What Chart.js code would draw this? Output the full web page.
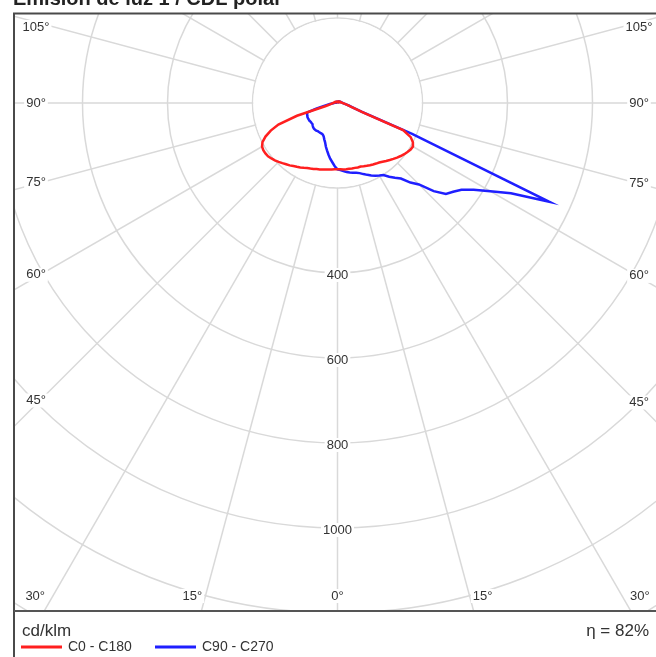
<!DOCTYPE html>
<html>
<head>
<meta charset="utf-8">
<script src="https://cdn.jsdelivr.net/npm/chart.js@4.4.1/dist/chart.umd.min.js"></script>
<style>
html,body{margin:0;padding:0;background:#fff;}
canvas{display:block;}
</style>
</head>
<body>
<canvas id="c" width="656" height="657"></canvas>
<script>
// ---------- DATA ----------
const chartTitle = 'Emisión de luz 1 / CDL polar';
const unitLabel = 'cd/klm';
const efficiencyLabel = 'η = 82%';
const seriesNames = ['C0 - C180', 'C90 - C270'];
const gammaStep = 2.5;                 // degrees between samples, gamma 0..180
const ringLabels = [400, 600, 800, 1000];
const angleLabels = [0, 15, 30, 45, 60, 75, 90, 105];

// intensities (cd/klm) for gamma = 0, 2.5, ... 180
const c0 = [156,156,157,157,157,158,158,159,159,161,
            163,165,167,169,171,174,178,182,186,190,
            194,198,201,204,205,200,190,167,62,42,
            32,26,22,19,16,14,12,11,10,9,
            8,8,7,7,6,6,6,5,5,5,
            5,4,4,4,4,4,3,3,3,3,
            3,3,3,2,2,2,2,2,2,2,
            2,2,2];
const c180 = [156,156,157,158,159,160,162,163,165,167,
              169,172,175,178,181,185,188,192,196,200,
              203,206,207,207,205,199,187,170,148,100,
              30,22,18,15,13,11,10,9,8,8,
              7,7,6,6,6,5,5,5,5,4,
              4,4,4,4,3,3,3,3,3,3,
              3,3,2,2,2,2,2,2,2,2,
              2,2,2];
const c90 = [156,158,161,164,166,168,170,173,178,183,
             188,193,197,201,212,222,232,254,271,307,
             333,343,356,380,415,460,550,190,60,42,
             33,27,22,19,16,14,13,12,11,10,
             9,8,8,7,7,6,6,6,5,5,
             5,5,4,4,4,4,4,3,3,3,
             3,3,3,3,2,2,2,2,2,2,
             2,2,2];
const c270 = [156,149,140,132,123,114,106,97,91,85,
              82,81,81,81,81,82,82,82,81,79,
              77,77,77,78,78,78,78,77,76,74,
              52,36,25,18,13,10,8,7,6,6,
              5,5,5,4,4,4,4,4,3,3,
              3,3,3,3,3,3,2,2,2,2,
              2,2,2,2,2,2,2,2,2,2,
              2,2,2];

// ---------- LAYOUT / STYLE ----------
const frame = { left: 14, top: 13, right: 662, plotBottom: 611, bottom: 720 };
const polar = { cx: 337.5, cy: 103, pxPerStep: 85, step: 200, max: 1600 };
const FONT = '"Liberation Sans", Arial, Helvetica, sans-serif';
const gridColor = '#d9d9d9';
const textColor = '#333';
const red = '#ff1f1f';
const blue = '#1f1fff';

// full-circle table for the radar (index 0 = nadir, going through the left half)
const half = c0.length - 1;
const positions = [];
for (let i = 0; i < 2 * half; i++) positions.push(i * gammaStep);
function loop(leftHalf, rightHalf) {
  return positions.map((p, i) => i <= half ? leftHalf[i] : rightHalf[2 * half - i]);
}

const polarPlugin = {
  id: 'polarFrame',
  afterLayout(chart) {
    const r = chart.scales.r;
    r.xCenter = polar.cx;
    r.yCenter = polar.cy;
    r.drawingArea = (r.max - r.min) * polar.pxPerStep / polar.step;
  },
  beforeDraw(chart) {
    const ctx = chart.ctx;
    ctx.save();
    ctx.fillStyle = '#fff';
    ctx.fillRect(0, 0, chart.width, chart.height);
    ctx.beginPath();
    ctx.rect(frame.left, frame.top, frame.right - frame.left, frame.plotBottom - frame.top);
    ctx.clip();
  },
  beforeDatasetsDraw(chart) {
    const ctx = chart.ctx, r = chart.scales.r;
    const r0 = r.getDistanceFromCenterForValue(polar.step);
    ctx.save();
    ctx.fillStyle = '#fff';
    ctx.beginPath();
    ctx.arc(r.xCenter, r.yCenter, r0 - 0.8, 0, Math.PI * 2);
    ctx.fill();
    // ring value labels
    ctx.font = '13px ' + FONT;
    ctx.textAlign = 'center';
    ctx.textBaseline = 'middle';
    ringLabels.forEach(v => {
      const y = r.yCenter + r.getDistanceFromCenterForValue(v) + 2;
      const t = String(v);
      const w = ctx.measureText(t).width;
      ctx.fillStyle = '#fff';
      ctx.fillRect(r.xCenter - w / 2 - 2, y - 7, w + 4, 14);
      ctx.fillStyle = textColor;
      ctx.fillText(t, r.xCenter, y);
    });
    // angle labels
    angleLabels.forEach(a => {
      [-1, 1].forEach(side => {
        if (a === 0 && side === 1) return;
        const rad = a * Math.PI / 180;
        const sx = Math.sin(rad), cyy = Math.cos(rad);
        const tBottom = cyy > 1e-6 ? (frame.plotBottom - r.yCenter) / cyy : Infinity;
        const sideDist = side < 0 ? r.xCenter - frame.left : frame.right - r.xCenter;
        const tSide = sx > 1e-6 ? sideDist / sx : Infinity;
        let x, y;
        if (tBottom < tSide) {
          const dx = sx * tBottom;
          x = r.xCenter + side * (dx > 0 ? dx + 9 : 0);
          y = frame.plotBottom - 15;
        } else {
          const dx = side < 0 ? r.xCenter - 40 : 637 - r.xCenter;
          y = Math.max(frame.top + 14, r.yCenter + dx * cyy / sx);
          x = side < 0 ? frame.left + 22 : frame.right - 23;
        }
        const t = a + '°';
        const w = ctx.measureText(t).width;
        ctx.fillStyle = '#fff';
        ctx.fillRect(x - w / 2 - 2, y - 7, w + 4, 14);
        ctx.fillStyle = textColor;
        ctx.fillText(t, x, y);
      });
    });
    ctx.restore();
  },
  afterDraw(chart) {
    const ctx = chart.ctx;
    ctx.restore();
    ctx.save();
    // frame
    ctx.strokeStyle = '#4a4a4a';
    ctx.lineWidth = 2;
    ctx.strokeRect(frame.left, frame.top + 0.5, frame.right - frame.left, frame.bottom - frame.top);
    ctx.strokeStyle = '#555';
    ctx.beginPath();
    ctx.moveTo(frame.left, frame.plotBottom);
    ctx.lineTo(frame.right, frame.plotBottom);
    ctx.stroke();
    // title (clipped at top of page)
    ctx.fillStyle = '#222';
    ctx.font = 'bold 20px ' + FONT;
    ctx.textAlign = 'left';
    ctx.textBaseline = 'alphabetic';
    ctx.fillText(chartTitle, 13, 5);
    // unit and efficiency
    ctx.fillStyle = textColor;
    ctx.font = '17px ' + FONT;
    ctx.fillText(unitLabel, 22, 636);
    ctx.textAlign = 'right';
    ctx.fillText(efficiencyLabel, 649, 636);
    // legend
    ctx.textAlign = 'left';
    ctx.textBaseline = 'middle';
    ctx.font = '14px ' + FONT;
    const legendX = [21, 155];
    chart.data.datasets.forEach((ds, i) => {
      const x = legendX[i];
      ctx.strokeStyle = ds.borderColor;
      ctx.lineWidth = 3;
      ctx.beginPath();
      ctx.moveTo(x, 647);
      ctx.lineTo(x + 41, 647);
      ctx.stroke();
      ctx.fillStyle = textColor;
      ctx.fillText(ds.label, x + 47, 647.5);
    });
    ctx.restore();
  }
};

new Chart(document.getElementById('c'), {
  type: 'radar',
  data: {
    labels: positions,
    datasets: [
      { label: seriesNames[0], data: loop(c180, c0), borderColor: red, borderWidth: 2.5,
        pointRadius: 0, fill: false, tension: 0, clip: false },
      { label: seriesNames[1], data: loop(c270, c90), borderColor: blue, borderWidth: 2.5,
        pointRadius: 0, fill: false, tension: 0, clip: false }
    ]
  },
  options: {
    responsive: false,
    devicePixelRatio: 1,
    animation: false,
    events: [],
    plugins: { legend: { display: false }, title: { display: false }, tooltip: { enabled: false } },
    scales: {
      r: {
        min: 0,
        max: polar.max,
        startAngle: 180,
        ticks: { display: false, stepSize: polar.step },
        pointLabels: { display: false },
        grid: { circular: true, color: gridColor, lineWidth: 1.5 },
        angleLines: {
          color: gridColor,
          lineWidth: ctx => (ctx.index * gammaStep) % 15 === 0 ? 1.5 : 0
        }
      }
    }
  },
  plugins: [polarPlugin]
});
</script>
</body>
</html>
